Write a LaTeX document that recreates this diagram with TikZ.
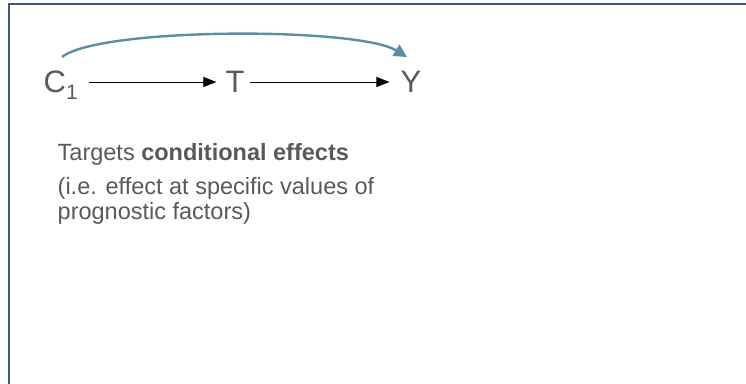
\documentclass[tikz,border=0pt]{standalone}
\usepackage{fontspec}
\setmainfont{Liberation Sans}
\usetikzlibrary{arrows.meta,calc}
\definecolor{framecol}{RGB}{62,90,125}
\definecolor{curvecol}{RGB}{91,142,163}
\definecolor{txtgray}{RGB}{89,89,89}
\begin{document}
\begin{tikzpicture}[x=1pt,y=1pt,
  var/.style={inner sep=0pt, text height=22pt, text depth=0pt, text=txtgray,
    font=\fontsize{31}{31}\selectfont},
  body/.style={inner sep=0pt, anchor=base west, text=txtgray,
    font=\fontsize{23.5}{24}\selectfont},
  causal/.style={black, line width=0.8pt, -{Triangle[length=13pt,width=10pt]}},
  curvearrow/.style={curvecol, line width=2.4pt, -{Triangle[length=13pt,width=13pt]}}]
\useasboundingbox (0,0) rectangle (746,383);
\begin{scope}
\clip (0,0) rectangle (746,383);
\draw[framecol, line width=2pt] (8.5,-10) -- (8.5,379) -- (760,379);
\end{scope}
% variables
\node[var, anchor=west] (C1) at (43.5,301) {C\raisebox{-7pt}{\fontsize{21}{21}\selectfont 1}};
\node[var] (T) at (235,301) {T};
\node[var] (Y) at (411,301) {Y};
% arrows
\draw[causal, shorten <=11pt, shorten >=9pt] (C1.east) -- (T.west);
\draw[causal, shorten <=5.5pt, shorten >=11pt] (T.east) -- (Y.west);
\coordinate (cstart) at (62,326);
\coordinate (cend) at (407,326);
\draw[curvearrow] (cstart) .. controls (100,356) and (358,356) .. (cend);
% text
\node[body] (t1) at (57.5,222) {Targets \textbf{conditional effects}};
\node[body] (t2) at (57.5,188) {(i.e. effect at specific values of};
\node[body] (t3) at (57.5,164) {prognostic factors)};
\end{tikzpicture}
\end{document}
